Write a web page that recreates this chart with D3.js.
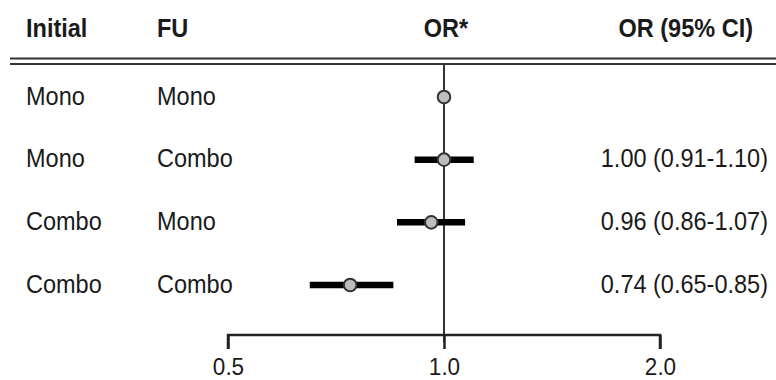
<!DOCTYPE html>
<html>
<head>
<meta charset="utf-8">
<script src="https://cdn.jsdelivr.net/npm/d3@7"></script>
<style>
  body { margin: 0; background: #fff; }
  svg text { font-family: "Liberation Sans", Arial, sans-serif; fill: #1a1a1a; }
</style>
</head>
<body>
<div></div>
<script>
const width = 776, height = 380;

// rows of the table
const initial = ["Mono", "Mono", "Combo", "Combo"];
const followUp = ["Mono", "Combo", "Mono", "Combo"];
const oddsRatio = [1.00, 1.00, 0.96, 0.74];
const ciLow = [null, 0.91, 0.86, 0.65];
const ciHigh = [null, 1.10, 1.07, 0.85];
const ciLabels = ["", "1.00 (0.91-1.10)", "0.96 (0.86-1.07)", "0.74 (0.65-0.85)"];
const headers = ["Initial", "FU", "OR*", "OR (95% CI)"];
const tickValues = [0.5, 1.0, 2.0];

const rows = initial.map((d, i) => ({
    initial: d, fu: followUp[i], or: oddsRatio[i],
    lo: ciLow[i], hi: ciHigh[i], label: ciLabels[i]
}));

const fontSize = 23.5, stretch = 1.09;

let vis = d3.select("div")
    .append("svg")
    .attr("width", width)
    .attr("height", height);

let x = d3.scaleLog().domain([0.5, 2.0]).range([228, 660]);
let y = d3.scalePoint().domain(d3.range(rows.length)).range([97, 285]);

// text is a bit taller than wide in the original
function label(sel, tx, ty) {
    return sel.append("text")
        .attr("transform", `translate(${tx},${ty}) scale(1,${stretch})`)
        .attr("font-size", fontSize);
}

// header
const headX = [26, 157, 446, 753];
const headAnchor = ["start", "start", "middle", "end"];
headers.forEach((h, i) => {
    label(vis, headX[i], 36.5)
        .attr("text-anchor", headAnchor[i])
        .attr("font-weight", "bold")
        .text(h);
});

// double rule under header
[58.5, 64].forEach(yy => {
    vis.append("line")
        .attr("x1", 10).attr("x2", width)
        .attr("y1", yy).attr("y2", yy)
        .attr("stroke", "#333")
        .attr("stroke-width", 2.2);
});

// reference line at OR = 1
vis.append("line")
    .attr("x1", x(1)).attr("x2", x(1))
    .attr("y1", 65).attr("y2", 342)
    .attr("stroke", "#333")
    .attr("stroke-width", 2);

// axis
let axis = d3.axisBottom(x)
    .tickValues(tickValues)
    .tickFormat(d3.format(".1f"))
    .tickSize(14)
    .tickPadding(8);

let gAxis = vis.append("g")
    .attr("transform", "translate(0,335)")
    .call(axis);
gAxis.select(".domain")
    .attr("d", `M${x(0.5)},14V0H${x(2)}V14`)
    .attr("stroke", "#222")
    .attr("stroke-width", 2.5);
gAxis.selectAll(".tick line").attr("stroke", "#222").attr("stroke-width", 2.5);
gAxis.selectAll(".tick text")
    .attr("y", null).attr("dy", null)
    .attr("transform", `translate(0,40) scale(1,${stretch})`)
    .attr("font-size", 22.5)
    .attr("font-family", "Liberation Sans, Arial, sans-serif")
    .attr("fill", "#1a1a1a");

// row labels
let g = vis.selectAll("g.row")
    .data(rows)
    .enter()
    .append("g")
    .attr("class", "row")
    .attr("transform", (d, i) => `translate(0,${y(i)})`);

g.each(function(d) {
    let row = d3.select(this);
    label(row, 26, 7.5).text(d.initial);
    label(row, 157, 7.5).text(d.fu);
    label(row, 768, 7.5).attr("text-anchor", "end").text(d.label);
});

// confidence intervals
g.filter(d => d.lo != null)
    .append("line")
    .attr("x1", d => x(d.lo))
    .attr("x2", d => x(d.hi))
    .attr("stroke", "#000")
    .attr("stroke-width", 6.5);

// point estimates
g.append("circle")
    .attr("cx", d => x(d.or))
    .attr("r", 6.3)
    .attr("fill", "#bdbdbd")
    .attr("stroke", "#333")
    .attr("stroke-width", 2);
</script>
</body>
</html>
